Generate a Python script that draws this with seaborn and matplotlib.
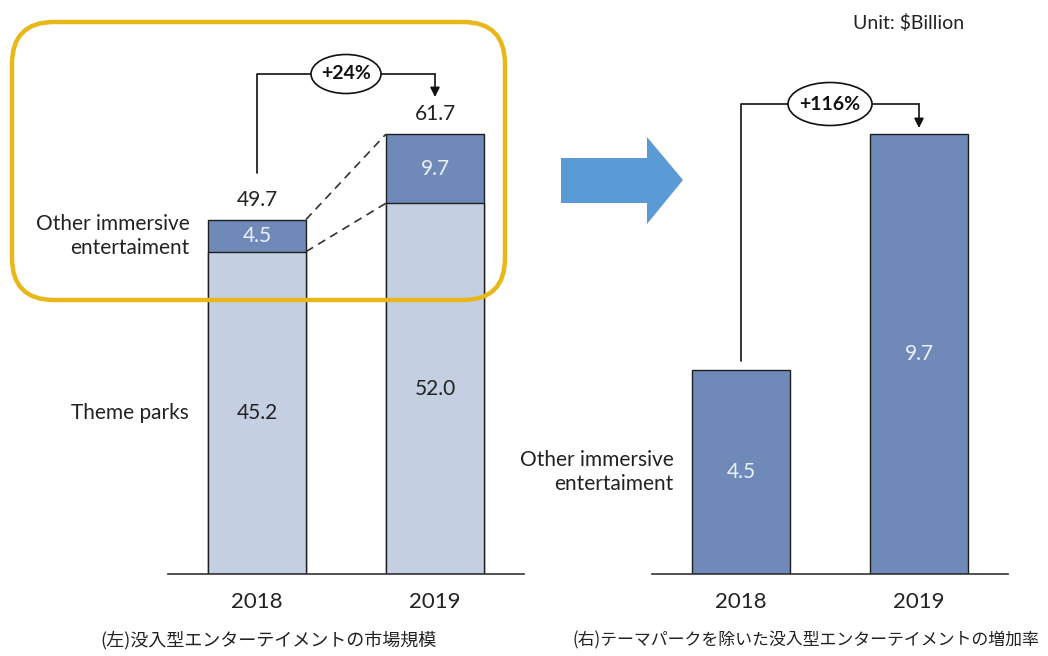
import matplotlib
matplotlib.use("Agg")
import matplotlib.pyplot as plt
from matplotlib.patches import FancyBboxPatch, Ellipse, Polygon
import seaborn as sns
import pandas as pd

# data
years = ["2018", "2019"]
theme_parks = [45.2, 52.0]
other_immersive = [4.5, 9.7]
growth_total = "+24%"
growth_other = "+116%"
unit_label = "Unit: $Billion"
title_left = "(左)没入型エンターテイメントの市場規模"
title_right = "(右)テーマパークを除いた没入型エンターテイメントの増加率"

totals = [a + b for a, b in zip(theme_parks, other_immersive)]
df = pd.DataFrame({"year": years, "theme": theme_parks,
                   "other": other_immersive, "total": totals})

LIGHT = "#c5cfe2"
DARK = "#6f8ab8"
EDGE = "#1e1e1e"
TXT = "#222222"
LAT = ["Lato", "DejaVu Sans"]
JP = ["Noto Sans CJK JP", "DejaVu Sans"]

sns.set_theme(style="white")
plt.rcParams["font.family"] = LAT

W, H = 1048, 656
fig = plt.figure(figsize=(W / 100, H / 100), dpi=100)


def px(x, y):
    # pixel position (from top-left) -> inches for dpi_scale_trans
    return x / 100, (H - y) / 100


base_y = 574
top_y = 30
ax_h = (base_y - top_y) / H
axL = fig.add_axes([168 / W, 1 - base_y / H, 356 / W, ax_h])
axR = fig.add_axes([652 / W, 1 - base_y / H, 356 / W, ax_h])

bw = 0.55
# left: stacked bars (total dark, theme parks light over it)
sns.barplot(data=df, x="year", y="total", color=DARK, width=bw, ax=axL,
            edgecolor=EDGE, linewidth=1.0, saturation=1)
sns.barplot(data=df, x="year", y="theme", color=LIGHT, width=bw, ax=axL,
            edgecolor=EDGE, linewidth=1.0, saturation=1)
sL = (base_y - 134) / totals[1]
axL.set_ylim(0, (base_y - top_y) / sL)

# right: other immersive only
sns.barplot(data=df, x="year", y="other", color=DARK, width=bw, ax=axR,
            edgecolor=EDGE, linewidth=1.0, saturation=1)
sR = (base_y - 134) / other_immersive[1]
axR.set_ylim(0, (base_y - top_y) / sR)

for ax in (axL, axR):
    ax.set_xlim(-0.5, 1.5)
    sns.despine(ax=ax, left=True)
    ax.spines["bottom"].set_color("#333333")
    ax.spines["bottom"].set_linewidth(1.2)
    ax.set_yticks([])
    ax.set_xlabel("")
    ax.set_ylabel("")
    ax.tick_params(axis="x", length=0, pad=13, labelsize=16, labelcolor=TXT)

VS = 15
# value labels, left
for i in range(2):
    axL.text(i, theme_parks[i] / 2, f"{theme_parks[i]:.1f}", ha="center",
             va="center", fontsize=VS, color=TXT)
    axL.text(i, theme_parks[i] + other_immersive[i] / 2,
             f"{other_immersive[i]:.1f}", ha="center", va="center",
             fontsize=VS, color="#eef2fa")
    axL.text(i, totals[i] + 1.4, f"{totals[i]:.1f}", ha="center",
             va="bottom", fontsize=VS, color=TXT)

# dashed connectors
for y0, y1 in [(totals[0], totals[1]), (theme_parks[0], theme_parks[1])]:
    axL.plot([bw / 2, 1 - bw / 2], [y0, y1], ls=(0, (5, 3.5)),
             color="#333333", lw=1.2)

# value labels, right
for i in range(2):
    axR.text(i, other_immersive[i] / 2, f"{other_immersive[i]:.1f}",
             ha="center", va="center", fontsize=VS, color="#eef2fa")

# side labels
axL.text(-0.38, theme_parks[0] + other_immersive[0] / 2,
         "Other immersive\nentertaiment", ha="right", va="center",
         fontsize=VS, color=TXT, linespacing=1.25)
axL.text(-0.38, theme_parks[0] / 2, "Theme parks", ha="right", va="center",
         fontsize=VS, color=TXT)
axR.text(-0.38, other_immersive[0] / 2, "Other immersive\nentertaiment",
         ha="right", va="center", fontsize=VS, color=TXT, linespacing=1.25)


# growth brackets
def bracket(ax, y_start, y_line, y_tip, label, ecx, ew, eh):
    ax.plot([0, 0, 1], [y_start, y_line, y_line], color="#111111", lw=1.2,
            clip_on=False)
    ax.annotate("", xy=(1, y_tip), xytext=(1, y_line),
                arrowprops=dict(arrowstyle="-|>", color="#111111", lw=1.2,
                                mutation_scale=14, shrinkA=0, shrinkB=0),
                annotation_clip=False)
    cx, cy = ax.transData.transform((ecx, y_line))
    cx_in, cy_in = cx / fig.dpi, cy / fig.dpi
    fig.patches.append(Ellipse((cx_in, cy_in), ew / 100, eh / 100,
                               transform=fig.dpi_scale_trans, facecolor="white",
                               edgecolor="#111111", lw=1.2, zorder=5))
    fig.text(cx_in / fig.get_figwidth(), cy_in / fig.get_figheight(), label,
             ha="center", va="center", fontsize=14, fontweight="bold",
             color="#111111", zorder=6)


bracket(axL, totals[0] + 6.5, (base_y - 74) / sL, (base_y - 97) / sL,
        growth_total, 0.5, 70, 39)
bracket(axR, other_immersive[0] + 0.2, (base_y - 104) / sR,
        (base_y - 128) / sR, growth_other, 0.5, 84, 43)

# yellow highlight box
x0, y0 = px(12, 300)
x1, y1 = px(505, 22)
fig.patches.append(FancyBboxPatch((x0, y0), x1 - x0, y1 - y0,
                                  boxstyle="round,pad=0,rounding_size=0.42",
                                  transform=fig.dpi_scale_trans,
                                  facecolor="none", edgecolor="#e8b81a",
                                  lw=3.2, zorder=10))

# blue arrow
pts = [(561, 158), (647, 158), (647, 137), (683, 180), (647, 224),
       (647, 203), (561, 203)]
fig.patches.append(Polygon([px(x, y) for x, y in pts], closed=True,
                           transform=fig.dpi_scale_trans,
                           facecolor="#5b9bd5", edgecolor="none"))

fig.text(909 / W, 1 - 23 / H, unit_label, ha="center", va="center",
         fontsize=14, color=TXT)
fig.text(268 / W, 1 - 640 / H, title_left, ha="center", va="center",
         fontsize=13, color=TXT, family=JP)
fig.text(806 / W, 1 - 640 / H, title_right, ha="center", va="center",
         fontsize=12.2, color=TXT, family=JP)

fig.savefig("out.png", dpi=100, facecolor="white")
